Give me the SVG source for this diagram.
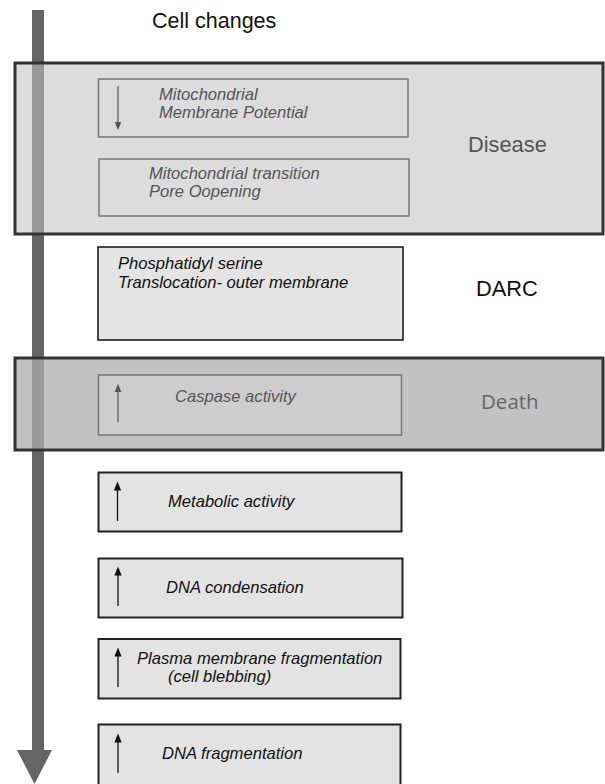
<svg xmlns="http://www.w3.org/2000/svg" width="605" height="784" viewBox="0 0 605 784">
<style>
.t{font-family:"Liberation Sans",Arial,sans-serif;font-style:italic;font-size:16.6px}
.g{fill:#555}
.k{fill:#111}
.lab{font-family:"Liberation Sans",Arial,sans-serif;font-size:21.8px}
.ib{fill:#e3e3e3;stroke:#222;stroke-width:2}
.sb{stroke:#111;stroke-width:1.3}
.sg{stroke:#555;stroke-width:1.2}
</style>
<defs>
<marker id="hk" viewBox="0 0 10 10" refX="5" refY="5" markerWidth="7" markerHeight="7" orient="auto"><path d="M0,1 L10,5 L0,9 z" fill="#111"/></marker>
<marker id="hg" viewBox="0 0 10 10" refX="5" refY="5" markerWidth="7" markerHeight="7" orient="auto"><path d="M0,1 L10,5 L0,9 z" fill="#555"/></marker>
</defs>
<rect width="605" height="784" fill="#fff"/>
<g id="connectors">
<rect x="32" y="10" width="12" height="741" fill="#656565"/>
<polygon points="17,750 52,750 34.5,784" fill="#656565"/>
</g>
<text x="152" y="28" font-family="'Liberation Sans',Arial,sans-serif" font-size="21.5" fill="#111">Cell changes</text>
<g id="disease">
<rect x="15" y="63" width="588" height="171" fill="#c0c0c0" fill-opacity="0.56" stroke="#333" stroke-width="3"/>
<text class="lab" x="468" y="152" fill="#555" font-size="23">Disease</text>
</g>
<g id="mmp">
<rect x="98.5" y="79" width="309.5" height="58" fill="#dcdcdc" stroke="#777" stroke-width="1.5"/>
<line class="sg" x1="118" y1="86" x2="118" y2="126" marker-end="url(#hg)"/>
<text class="t g" x="159" y="100">Mitochondrial</text>
<text class="t g" x="159" y="118">Membrane Potential</text>
</g>
<g id="mpt">
<rect x="99" y="159" width="310" height="57" fill="#dcdcdc" stroke="#777" stroke-width="1.5"/>
<text class="t g" x="149" y="179">Mitochondrial transition</text>
<text class="t g" x="149" y="197">Pore Oopening</text>
</g>
<g id="ps">
<rect x="98" y="247" width="305" height="93" fill="#e4e4e4" stroke="#111" stroke-width="1.5"/>
<text class="t k" x="118" y="269">Phosphatidyl serine</text>
<text class="t k" x="118" y="288">Translocation- outer membrane</text>
<text class="lab" x="476" y="296" fill="#111">DARC</text>
</g>
<g id="death">
<rect x="15" y="358" width="588" height="92" fill="#adadad" fill-opacity="0.74" stroke="#333" stroke-width="3"/>
<text x="481" y="409" font-family="'Open Sans','Liberation Sans',sans-serif" font-size="20.5" fill="#666">Death</text>
</g>
<g id="caspase">
<rect x="98.5" y="375" width="303" height="60" fill="#cdcdcd" stroke="#777" stroke-width="1.5"/>
<line class="sg" x1="118" y1="422" x2="118" y2="388" marker-end="url(#hg)"/>
<text class="t g" x="175" y="402">Caspase activity</text>
</g>
<g id="metabolic">
<rect class="ib" x="98.5" y="472.5" width="303" height="59"/>
<line class="sb" x1="117.5" y1="521" x2="117.5" y2="486" marker-end="url(#hk)"/>
<text class="t k" x="168" y="507">Metabolic activity</text>
</g>
<g id="dnacond">
<rect class="ib" x="98.5" y="558.5" width="304" height="59"/>
<line class="sb" x1="118" y1="606" x2="118" y2="571" marker-end="url(#hk)"/>
<text class="t k" x="166" y="593">DNA condensation</text>
</g>
<g id="plasma">
<rect class="ib" x="98.5" y="639" width="302" height="59.5"/>
<line class="sb" x1="118" y1="687" x2="118" y2="652" marker-end="url(#hk)"/>
<text class="t k" x="137" y="664">Plasma membrane fragmentation</text>
<text class="t k" x="168" y="682">(cell blebbing)</text>
</g>
<g id="dnafrag">
<rect class="ib" x="98.5" y="724.5" width="302" height="70"/>
<line class="sb" x1="118" y1="773" x2="118" y2="738" marker-end="url(#hk)"/>
<text class="t k" x="162" y="759">DNA fragmentation</text>
</g>
</svg>
